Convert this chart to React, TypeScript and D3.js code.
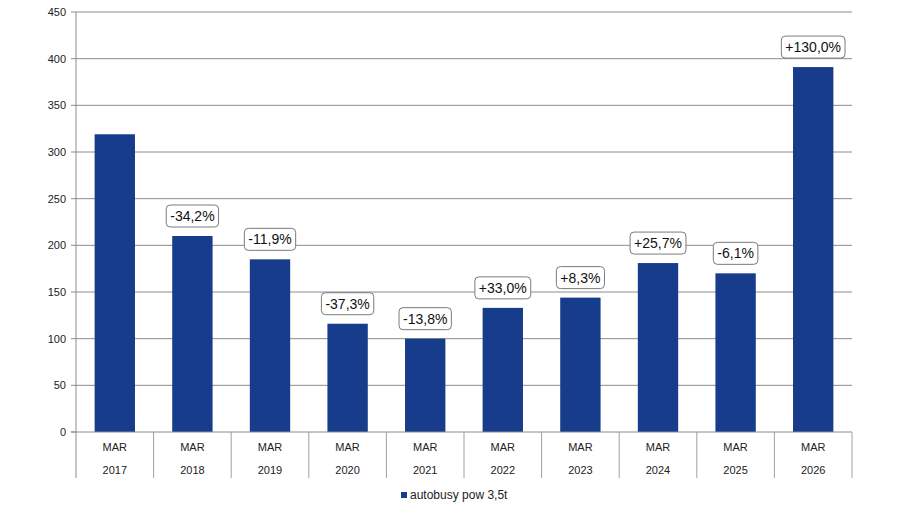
import { useEffect, useRef } from "react";
import * as d3 from "d3";

const MONTHS = ["MAR", "MAR", "MAR", "MAR", "MAR", "MAR", "MAR", "MAR", "MAR", "MAR"];
const YEARS = ["2017", "2018", "2019", "2020", "2021", "2022", "2023", "2024", "2025", "2026"];
const VALUES = [319, 210, 185, 116, 100, 133, 144, 181, 170, 391];
const CHANGES = ["", "-34,2%", "-11,9%", "-37,3%", "-13,8%", "+33,0%", "+8,3%", "+25,7%", "-6,1%", "+130,0%"];
const Y_TICKS = [0, 50, 100, 150, 200, 250, 300, 350, 400, 450];
const SERIES_NAME = "autobusy pow 3,5t";

const W = 916;
const H = 532;
const FONT = "'Liberation Sans', Arial, sans-serif";
const BAR = "#173c8b";

export default function App() {
  const svgRef = useRef<SVGSVGElement>(null);

  useEffect(() => {
    if (!svgRef.current) return;
    const svg = d3.select(svgRef.current);
    svg.selectAll("*").remove();

    const left = 76;
    const right = 852;
    const top = 12;
    const bottom = 432;
    const axisBottom = 478;

    const x = d3.scaleBand().domain(YEARS).range([left, right]).paddingInner(0.48).paddingOuter(0.24);
    const band = d3.scaleBand().domain(YEARS).range([left, right]);
    const y = d3.scaleLinear().domain([0, 450]).range([bottom, top]);

    // gridlines
    svg
      .append("g")
      .selectAll("line")
      .data(Y_TICKS.filter((t) => t > 0))
      .enter()
      .append("line")
      .attr("x1", left)
      .attr("x2", right)
      .attr("y1", (d) => y(d))
      .attr("y2", (d) => y(d))
      .attr("stroke", "#8c8c8c")
      .attr("stroke-width", 1);

    // y ticks + labels
    const yg = svg.append("g");
    yg.selectAll("line")
      .data(Y_TICKS)
      .enter()
      .append("line")
      .attr("x1", left - 5)
      .attr("x2", left)
      .attr("y1", (d) => y(d))
      .attr("y2", (d) => y(d))
      .attr("stroke", "#8c8c8c");
    yg.selectAll("text")
      .data(Y_TICKS)
      .enter()
      .append("text")
      .attr("x", left - 10)
      .attr("y", (d) => y(d) + 4)
      .attr("text-anchor", "end")
      .attr("font-family", FONT)
      .attr("font-size", 11)
      .attr("fill", "#222")
      .text((d) => d);

    // bars
    svg
      .append("g")
      .selectAll("rect")
      .data(VALUES)
      .enter()
      .append("rect")
      .attr("x", (_, i) => x(YEARS[i])!)
      .attr("y", (d) => y(d))
      .attr("width", x.bandwidth())
      .attr("height", (d) => bottom - y(d))
      .attr("fill", BAR);

    // axes lines
    svg
      .append("line")
      .attr("x1", left)
      .attr("x2", left)
      .attr("y1", top)
      .attr("y2", axisBottom)
      .attr("stroke", "#8c8c8c");
    svg
      .append("line")
      .attr("x1", left - 5)
      .attr("x2", right)
      .attr("y1", bottom)
      .attr("y2", bottom)
      .attr("stroke", "#8c8c8c");

    // category separators
    svg
      .append("g")
      .selectAll("line")
      .data(YEARS)
      .enter()
      .append("line")
      .attr("x1", (d) => band(d)! + band.bandwidth())
      .attr("x2", (d) => band(d)! + band.bandwidth())
      .attr("y1", bottom)
      .attr("y2", axisBottom)
      .attr("stroke", "#a0a0a0");

    // category labels
    const cg = svg.append("g").attr("font-family", FONT).attr("font-size", 11).attr("fill", "#222");
    YEARS.forEach((yr, i) => {
      const cx = band(yr)! + band.bandwidth() / 2;
      cg.append("text").attr("x", cx).attr("y", 451).attr("text-anchor", "middle").text(MONTHS[i]);
      cg.append("text").attr("x", cx).attr("y", 474).attr("text-anchor", "middle").text(yr);
    });

    // change labels
    const lg = svg.append("g");
    VALUES.forEach((v, i) => {
      const label = CHANGES[i];
      if (!label) return;
      const cx = x(YEARS[i])! + x.bandwidth() / 2;
      const by = y(v) - 9;
      const t = lg
        .append("text")
        .attr("x", cx)
        .attr("y", by - 6)
        .attr("text-anchor", "middle")
        .attr("font-family", FONT)
        .attr("font-size", 14)
        .attr("fill", "#111")
        .text(label);
      const w = (t.node() as SVGTextElement).getComputedTextLength() + 8;
      lg.insert("rect", "text")
        .attr("x", cx - w / 2)
        .attr("y", by - 22)
        .attr("width", w)
        .attr("height", 22)
        .attr("rx", 4)
        .attr("fill", "#fff")
        .attr("stroke", "#7a7a7a");
    });
    // bring texts above rects
    lg.selectAll("text").raise();

    // legend
    const leg = svg.append("g");
    leg.append("rect").attr("x", 401).attr("y", 492).attr("width", 6).attr("height", 6).attr("fill", BAR);
    leg
      .append("text")
      .attr("x", 410)
      .attr("y", 499)
      .attr("font-family", FONT)
      .attr("font-size", 12)
      .attr("fill", "#222")
      .text(SERIES_NAME);
  }, []);

  return (
    <svg
      ref={svgRef}
      width={W}
      height={H}
      style={{ position: "absolute", left: 0, top: 0, background: "#fff" }}
    />
  );
}
